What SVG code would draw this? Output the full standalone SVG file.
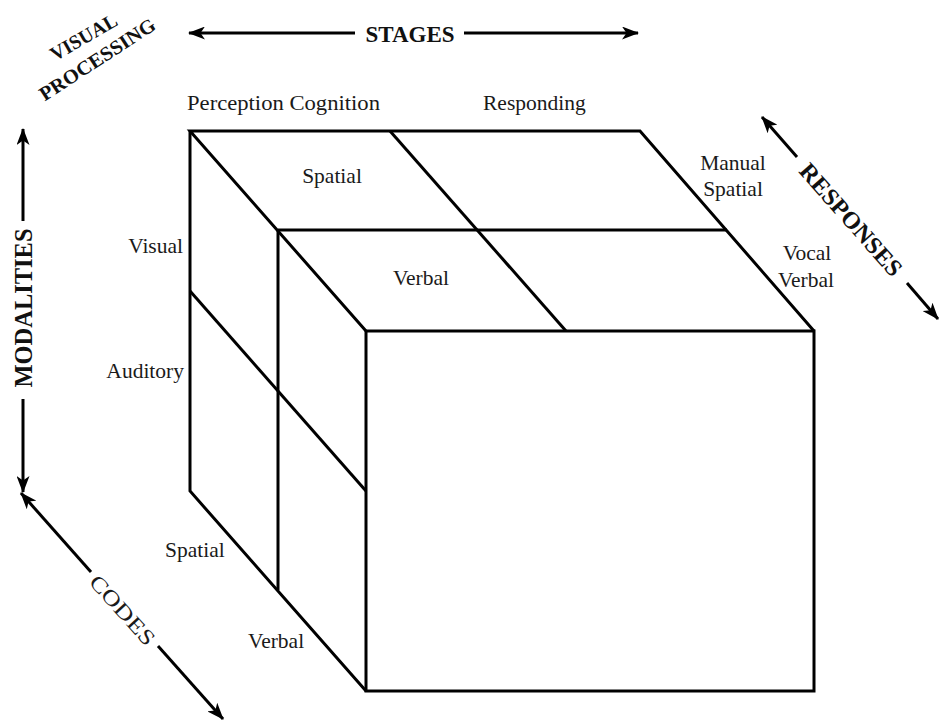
<svg xmlns="http://www.w3.org/2000/svg" width="940" height="722" viewBox="0 0 940 722">
<defs>
<style>
.cube{fill:none;stroke:#000;stroke-width:3;stroke-linejoin:miter}
.ax{fill:none;stroke:#000;stroke-width:3}
.lbl{font-family:"Liberation Serif","Times New Roman",serif;font-size:21.5px;fill:#1a1a1a}
.ttl{font-family:"Liberation Serif","Times New Roman",serif;font-weight:bold;fill:#111}
</style>
<marker id="ah" viewBox="0 0 17 13" refX="16" refY="6.5" markerWidth="17" markerHeight="13" markerUnits="userSpaceOnUse" orient="auto-start-reverse">
<path d="M0,0 L17,6.5 L0,13 L4.5,6.5 Z" fill="#000"/>
</marker>
</defs>
<rect width="940" height="722" fill="#fff"/>

<g id="cube">
<g id="top-face">
<polyline class="cube" points="366,331 190,131 640,131 814,331"/>
<line class="cube" x1="390" y1="131" x2="566" y2="331"/>
<line class="cube" x1="278" y1="230" x2="727" y2="230"/>
</g>
<g id="left-face">
<polyline class="cube" points="190,131 190,491 366,691"/>
<line class="cube" x1="278" y1="230" x2="278" y2="590"/>
<line class="cube" x1="190" y1="291" x2="366" y2="491"/>
</g>
<g id="front-face">
<rect class="cube" x="366" y="331" width="448" height="360"/>
</g>
</g>

<g id="connectors">
<line class="ax" x1="355" y1="33" x2="189" y2="33" marker-end="url(#ah)"/>
<line class="ax" x1="464" y1="33" x2="638" y2="33" marker-end="url(#ah)"/>
<line class="ax" x1="23" y1="221" x2="23" y2="129" marker-end="url(#ah)"/>
<line class="ax" x1="23" y1="399" x2="23" y2="492" marker-end="url(#ah)"/>
<line class="ax" x1="91" y1="572" x2="21" y2="493" marker-end="url(#ah)"/>
<line class="ax" x1="158" y1="646" x2="223" y2="719" marker-end="url(#ah)"/>
<line class="ax" x1="797" y1="157" x2="762" y2="117" marker-end="url(#ah)"/>
<line class="ax" x1="907" y1="283" x2="938" y2="319" marker-end="url(#ah)"/>
</g>

<g id="axis-titles">
<text class="ttl" x="410" y="42" font-size="23" text-anchor="middle">STAGES</text>
<text class="ttl" font-size="25" text-anchor="middle" textLength="159" lengthAdjust="spacingAndGlyphs" transform="translate(32,308) rotate(-90)">MODALITIES</text>
<g transform="translate(87,43) rotate(-30)">
<text class="ttl" font-size="20" text-anchor="middle" x="0" y="0" textLength="74" lengthAdjust="spacingAndGlyphs">VISUAL</text>
</g>
<g transform="translate(101,65) rotate(-33)">
<text class="ttl" font-size="20" text-anchor="middle" x="0" y="0" textLength="134" lengthAdjust="spacingAndGlyphs">PROCESSING</text>
</g>
<text class="lbl" font-size="26" text-anchor="middle" textLength="87" lengthAdjust="spacingAndGlyphs" transform="translate(117,615) rotate(48)">CODES</text>
<text class="ttl" font-size="24" text-anchor="middle" textLength="142" lengthAdjust="spacingAndGlyphs" transform="translate(845,225) rotate(48.5)">RESPONSES</text>
</g>

<g id="labels">
<text class="lbl" x="187" y="110" textLength="193" lengthAdjust="spacingAndGlyphs">Perception Cognition</text>
<text class="lbl" x="483" y="110">Responding</text>
<text class="lbl" x="332" y="183" text-anchor="middle">Spatial</text>
<text class="lbl" x="421" y="285" text-anchor="middle">Verbal</text>
<text class="lbl" x="733" y="170" text-anchor="middle">Manual</text>
<text class="lbl" x="733" y="196" text-anchor="middle">Spatial</text>
<text class="lbl" x="807" y="260" text-anchor="middle">Vocal</text>
<text class="lbl" x="806" y="287" text-anchor="middle">Verbal</text>
<text class="lbl" x="183" y="253" text-anchor="end">Visual</text>
<text class="lbl" x="184" y="378" text-anchor="end">Auditory</text>
<text class="lbl" x="165" y="557">Spatial</text>
<text class="lbl" x="248" y="648">Verbal</text>
</g>
</svg>
